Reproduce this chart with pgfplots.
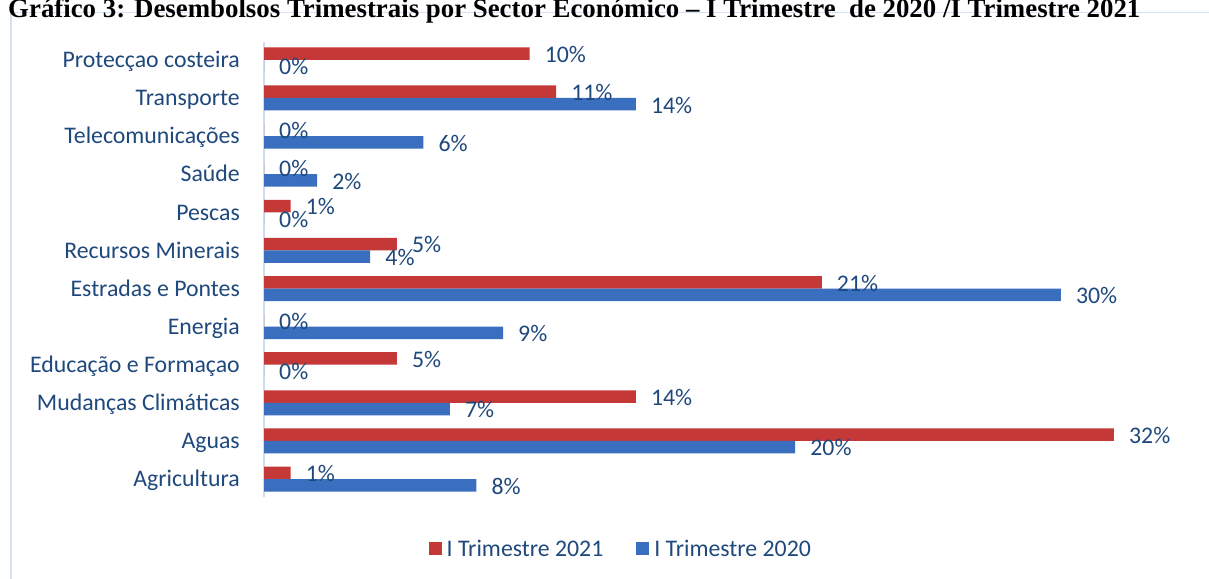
\documentclass[border=0pt]{standalone}
\usepackage{pgfplots}
\pgfplotsset{compat=1.18}
\usepackage{fontspec}
\setmainfont{Carlito}
\newfontfamily\titlefont{Liberation Serif}
\definecolor{txt}{RGB}{31,73,125}
\definecolor{redF}{RGB}{196,56,55}
\definecolor{bluF}{RGB}{58,110,190}
\definecolor{frame}{RGB}{214,226,244}
\definecolor{axcol}{RGB}{208,220,238}
\begin{document}
\begin{tikzpicture}
\useasboundingbox (0,0) rectangle (1209bp,579bp);
\fill[white] (0,0) rectangle (1209bp,579bp);
\draw[frame, line width=1.8bp] (1215bp,566.5bp) -- (11bp,566.5bp) -- (11bp,-5bp);
\node[anchor=base west, inner sep=0pt] at (8bp,561.5bp)
  {\resizebox{1132bp}{!}{\titlefont\bfseries\fontsize{22bp}{26bp}\selectfont Gráfico 3: Desembolsos Trimestrais por Sector Económico – I Trimestre\ \ de 2020 /I Trimestre 2021}};
\begin{axis}[
  at={(264bp,82.09bp)}, anchor=south west,
  x=26.56bp, y=38.1bp,
  xmin=0, xmax=35, ymin=-0.47, ymax=11.46,
  enlargelimits=false, clip=false,
  axis x line=none,
  axis y line*=left,
  y axis line style={draw=axcol, line width=1.3bp},
  xtick=\empty,
  ytick={0,...,11},
  major tick length=0pt,
  yticklabels={Agricultura,Aguas,Mudanças Climáticas,Educação e Formaçao,Energia,Estradas e Pontes,Recursos Minerais,Pescas,Saúde,Telecomunicações,Transporte\ ,Protecçao costeira\ },
  yticklabel style={anchor=base east, inner sep=0pt, xshift=-24bp, yshift=-7.8bp, text=txt, font=\fontsize{23.8bp}{28bp}\selectfont},
  xbar, bar width=12.5bp,
  point meta=x,
  nodes near coords={\pgfmathprintnumber{\pgfplotspointmeta}\%},
  /pgf/number format/assume math mode=true,
  every node near coord/.append style={anchor=base west, inner sep=0pt, xshift=15bp, yshift=-8.8bp, text=txt, font=\fontsize{23.8bp}{28bp}\selectfont},
  legend style={at={(axis cs:13.49,-1.837)}, anchor=center, draw=none, fill=none,
    legend columns=2, font=\fontsize{23.8bp}{28bp}\selectfont, text=txt,
    nodes={inner xsep=5bp, inner ysep=0pt},
    /tikz/every even column/.append style={column sep=28bp}},
  legend image code/.code={\fill[#1] (0bp,-6.5bp) rectangle (13bp,6.5bp);},
]
\addplot[draw=none, fill=redF, bar shift=6.25bp] coordinates {
(1,0) (32,1) (14,2) (5,3) (0,4) (21,5) (5,6) (1,7) (0,8) (0,9) (11,10) (10,11)};
\addlegendentry{I Trimestre 2021}
\addplot[draw=none, fill=bluF, bar shift=-6.25bp] coordinates {
(8,0) (20,1) (7,2) (0,3) (9,4) (30,5) (4,6) (0,7) (2,8) (6,9) (14,10) (0,11)};
\addlegendentry{I Trimestre 2020}
\end{axis}
\end{tikzpicture}
\end{document}
